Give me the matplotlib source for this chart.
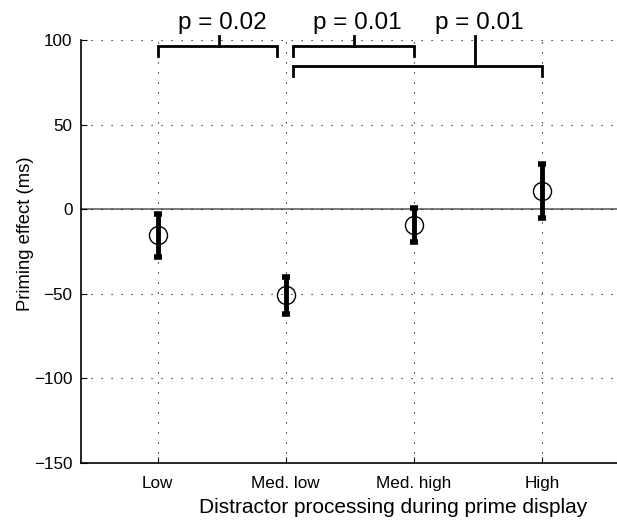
import numpy as np
import matplotlib
matplotlib.use("Agg")
import matplotlib.pyplot as plt

plt.rcParams['font.family'] = ['Liberation Sans', 'DejaVu Sans']

# Data
conditions = ['Low', 'Med. low', 'Med. high', 'High']
priming = np.array([-15.5, -51, -9.5, 10.5])
err = np.array([12.5, 11, 10, 16])

# significance brackets: (left, right, stem x, bracket height, label)
brackets = [(1.0, 1.93, 1.475, 96.3, 'p = 0.02'),
            (2.06, 3.0, 2.53, 96.3, 'p = 0.01'),
            (2.06, 4.0, 3.48, 84.6, 'p = 0.01')]

x = np.arange(1, len(conditions) + 1)

fig = plt.figure(figsize=(6.17, 5.21), dpi=100)
ax = fig.add_axes([0.131, 0.1113, 0.872, 0.812])

ax.axhline(0, color='#555555', lw=1.1, zorder=1)
ax.errorbar(x, priming, yerr=err, fmt='none', ecolor='black', elinewidth=3.5,
            capsize=2.8, capthick=4, zorder=2)
ax.plot(x, priming, 'o', ms=13, mfc='none', mec='black', mew=1.0, zorder=3)

ax.set_xlim(0.4, 4.6)
ax.set_ylim(-150, 100)
ax.set_xticks(x)
ax.set_xticklabels(conditions)
ax.set_yticks([100, 50, 0, -50, -100, -150])
ax.tick_params(direction='in', length=4, labelsize=12.3)
ax.tick_params(axis='x', pad=9)
ax.tick_params(axis='y', pad=6)
ax.grid(True, linestyle=(0, (1, 8)), color='black', lw=0.8)
for s in ['top', 'right']:
    ax.spines[s].set_visible(False)
ax.spines['left'].set_linewidth(1.2)
ax.spines['bottom'].set_linewidth(1.2)

ax.set_ylabel('Priming effect (ms)', fontsize=13.3)
ax.yaxis.set_label_coords(-0.087, 0.541)
ax.set_xlabel('Distractor processing during prime display', fontsize=15)
ax.xaxis.set_label_coords(0.58, -0.083)

# brackets drawn above the data area
for left, right, stem, h, label in brackets:
    ax.plot([left, left, right, right], [h - 6, h, h, h - 6], color='black',
            lw=2, clip_on=False, solid_joinstyle='miter')
    ax.plot([stem, stem], [h, 102.5], color='black', lw=2, clip_on=False)
for left, right, stem, h, label in brackets:
    ax.text(stem + 0.03, 103.8, label, ha='center', va='bottom', fontsize=17.5)

fig.savefig('out.png', dpi=100)
